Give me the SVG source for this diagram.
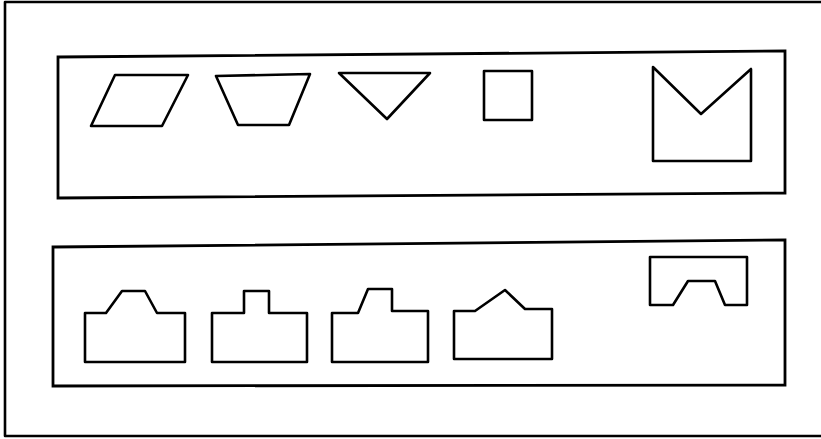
<svg xmlns="http://www.w3.org/2000/svg" width="821" height="439" viewBox="0 0 821 439">
<style>
.s{fill:none;stroke:#000;stroke-width:2.6;stroke-linejoin:round}
.p{fill:none;stroke:#000;stroke-width:2.8}
</style>
<rect width="821" height="439" fill="#fff"/>
<polyline class="s" points="830,2 5,2 5,436 830,436"/>
<g id="panel-top">
<polygon class="p" points="58,57 785,51 785,193 58,198"/>
</g>
<g id="parallelogram"><polygon class="s" points="115,75 188,75 162,126 91,126"/></g>
<g id="trapezoid"><polygon class="s" points="216,76 310,74 289,125 238,125"/></g>
<g id="triangle"><polygon class="s" points="339,73 430,73 387,119"/></g>
<g id="square"><rect class="s" x="484" y="71" width="48" height="49"/></g>
<g id="m-shape"><polygon class="s" points="653,67 701,114 751,69 751,161 653,161"/></g>
<g id="panel-bottom">
<polygon class="p" points="53,247 785,240 785,385 53,386"/>
</g>
<g id="shape1"><polygon class="s" points="85,313 106,313 122,291 145,291 157,313 185,313 185,362 85,362"/></g>
<g id="shape2"><polygon class="s" points="212,313 244,313 244,291 269,291 269,313 307,313 307,362 212,362"/></g>
<g id="shape3"><polygon class="s" points="332,313 358,313 368,289 392,289 392,311 428,311 428,362 332,362"/></g>
<g id="shape4"><polygon class="s" points="454,311 475,311 505,290 525,309 552,309 552,359 454,359"/></g>
<g id="shape5"><polygon class="s" points="650,257 747,257 747,305 725,305 715,281 688,281 673,305 650,305"/></g>
</svg>
